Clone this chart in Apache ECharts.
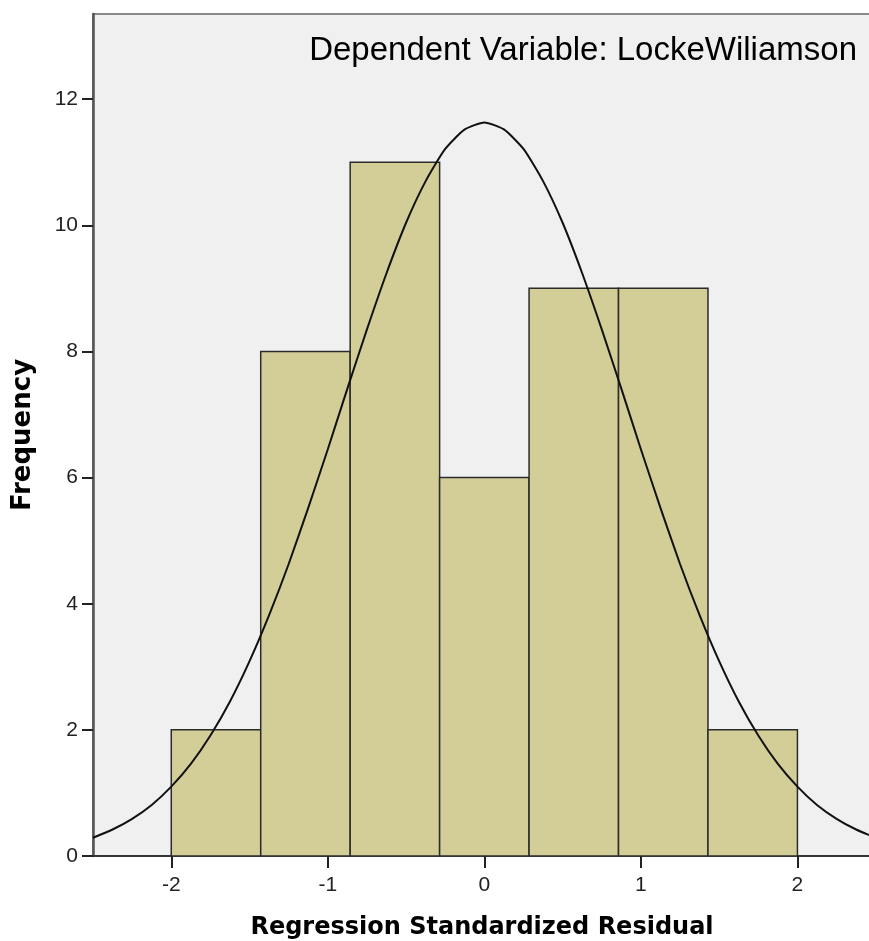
<!DOCTYPE html>
<html>
<head>
<meta charset="utf-8">
<script src="https://cdn.jsdelivr.net/npm/echarts@6/dist/echarts.min.js"></script>
<style>
  html, body { margin: 0; padding: 0; background: #fff; }
  #chart { width: 869px; height: 941px; }
</style>
</head>
<body>
<div id="chart"></div>
<script>
// histogram bins (lower edge, upper edge) and counts
const binEdges = [-2.0, -1.4286, -0.8571, -0.2857, 0.2857, 0.8571, 1.4286, 2.0]
const binCounts = [2, 8, 11, 6, 9, 9, 2]

// normal curve
const curveX = [-2.5, -2.375, -2.25, -2.125, -2.0, -1.875, -1.75, -1.625, -1.5, -1.375,
  -1.25, -1.125, -1.0, -0.875, -0.75, -0.625, -0.5, -0.375, -0.25, -0.125, 0,
  0.125, 0.25, 0.375, 0.5, 0.625, 0.75, 0.875, 1.0, 1.125, 1.25, 1.375, 1.5,
  1.625, 1.75, 1.875, 2.0, 2.125, 2.25, 2.375, 2.5]
const curveY = [0.29, 0.42, 0.59, 0.81, 1.1, 1.46, 1.91, 2.45, 3.09, 3.82,
  4.63, 5.52, 6.45, 7.41, 8.35, 9.24, 10.04, 10.7, 11.21, 11.52, 11.63,
  11.52, 11.21, 10.7, 10.04, 9.24, 8.35, 7.41, 6.45, 5.52, 4.63, 3.82, 3.09,
  2.45, 1.91, 1.46, 1.1, 0.81, 0.59, 0.42, 0.29]

const xTicks = [-2, -1, 0, 1, 2]
const yTicks = [0, 2, 4, 6, 8, 10, 12]

const chart = echarts.init(document.getElementById('chart'), null, { renderer: 'canvas' })

const barData = binCounts.map((c, i) => [binEdges[i], binEdges[i + 1], c])

const labelFont = 'Liberation Sans, Arial, sans-serif'
const nameFont = 'DejaVu Sans, Verdana, sans-serif'

chart.setOption({
  animation: false,
  backgroundColor: '#ffffff',
  title: {
    text: 'Dependent Variable: LockeWiliamson',
    right: 7,
    top: 29,
    textStyle: {
      fontFamily: labelFont,
      fontSize: 33,
      fontWeight: 'normal',
      color: '#000'
    }
  },
  grid: {
    left: 93,
    right: -2,
    top: 14,
    bottom: 85,
    outerBoundsMode: 'none',
    containLabel: false,
    show: true,
    backgroundColor: '#f0f0f0',
    borderColor: '#8a8a8a',
    borderWidth: 2
  },
  xAxis: {
    type: 'value',
    min: -2.5,
    max: 2.47,
    name: 'Regression Standardized Residual',
    nameLocation: 'middle',
    nameGap: 60,
    nameMoveOverlap: false,
    nameTextStyle: {
      fontFamily: nameFont,
      fontSize: 24,
      fontWeight: 'bold',
      color: '#000'
    },
    axisLine: { onZero: false, lineStyle: { color: '#333', width: 2 } },
    axisTick: {
      show: true,
      length: 12,
      customValues: xTicks,
      lineStyle: { color: '#222', width: 2 }
    },
    axisLabel: {
      customValues: xTicks,
      color: '#222',
      fontFamily: labelFont,
      fontSize: 21,
      margin: 19
    },
    splitLine: { show: false }
  },
  yAxis: {
    type: 'value',
    min: 0,
    max: 13.35,
    name: 'Frequency',
    nameLocation: 'middle',
    nameGap: 57,
    nameMoveOverlap: false,
    nameTextStyle: {
      fontFamily: nameFont,
      fontSize: 26,
      fontWeight: 'bold',
      color: '#000'
    },
    axisLine: { show: true, onZero: false, lineStyle: { color: '#555', width: 2.5 } },
    axisTick: {
      show: true,
      length: 11,
      customValues: yTicks,
      lineStyle: { color: '#222', width: 2 }
    },
    axisLabel: {
      customValues: yTicks,
      color: '#222',
      fontFamily: labelFont,
      fontSize: 21,
      margin: 15
    },
    splitLine: { show: false }
  },
  series: [
    {
      type: 'custom',
      data: barData,
      encode: { x: [0, 1], y: 2 },
      clip: true,
      renderItem: function (params, api) {
        const p0 = api.coord([api.value(0), api.value(2)])
        const p1 = api.coord([api.value(1), 0])
        return {
          type: 'rect',
          shape: { x: p0[0], y: p0[1], width: p1[0] - p0[0], height: p1[1] - p0[1] },
          style: { fill: '#d3ce97', stroke: '#2b2b2b', lineWidth: 1.5 }
        }
      },
      z: 2
    },
    {
      type: 'line',
      data: curveX.map((x, i) => [x, curveY[i]]),
      smooth: 0.2,
      showSymbol: false,
      clip: true,
      lineStyle: { color: '#111', width: 2 },
      z: 3
    }
  ]
})
</script>
</body>
</html>
